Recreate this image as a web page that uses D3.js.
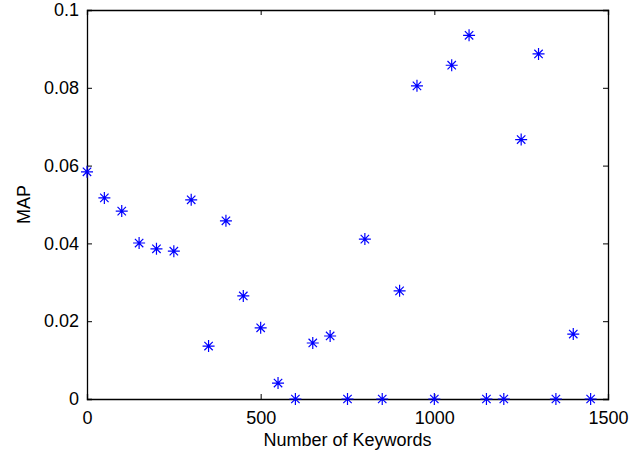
<!DOCTYPE html>
<html>
<head>
<meta charset="utf-8">
<script src="https://cdn.jsdelivr.net/npm/d3@7"></script>
<style>
  body { margin: 0; background: #fff; }
  text { font-family: "Liberation Sans", Arial, sans-serif; }
</style>
</head>
<body>
<div class="container"></div>
<script>
// MAP vs number of keywords, matlab-style scatter with '*' markers

const keywords = [0, 50, 100, 150, 200, 250, 300, 350, 400, 450, 500, 550, 600, 650, 700,
  750, 800, 850, 900, 950, 1000, 1050, 1100, 1150, 1200, 1250, 1300, 1350, 1400, 1450];
const mapValues = [0.0584, 0.0517, 0.0483, 0.0401, 0.0386, 0.0380, 0.0512, 0.0136, 0.0458, 0.0265,
  0.0183, 0.0041, 0, 0.0144, 0.0162, 0, 0.0411, 0, 0.0278, 0.0805,
  0, 0.0858, 0.0935, 0, 0, 0.0667, 0.0887, 0, 0.0167, 0];
const xTicks = [0, 500, 1000, 1500];
const yTicks = [0, 0.02, 0.04, 0.06, 0.08, 0.1];

const w = 644, h = 455;
const margin = { top: 10, right: 36, bottom: 56, left: 87 };

const points = keywords.map((k, i) => ({ k: k, v: mapValues[i] }));

const xScale = d3.scaleLinear().domain([0, 1500]).range([margin.left, w - margin.right]);
const yScale = d3.scaleLinear().domain([0, 0.1]).range([h - margin.bottom, margin.top]);

const svg = d3.select(".container").append("svg")
  .attr("width", w)
  .attr("height", h);

const fmt = (d) => d === 0 ? "0" : String(+d.toFixed(2));

// box axes, ticks pointing inward
const axBottom = svg.append("g")
  .attr("transform", `translate(0,${yScale(0)})`)
  .call(d3.axisBottom(xScale).tickValues(xTicks).tickSize(-5).tickPadding(12).tickFormat(d3.format("d")));
const axTop = svg.append("g")
  .attr("transform", `translate(0,${yScale(0.1)})`)
  .call(d3.axisTop(xScale).tickValues(xTicks).tickSize(-5).tickFormat(""));
const axLeft = svg.append("g")
  .attr("transform", `translate(${xScale(0)},0)`)
  .call(d3.axisLeft(yScale).tickValues(yTicks).tickSize(-5).tickPadding(8).tickFormat(fmt));
const axRight = svg.append("g")
  .attr("transform", `translate(${xScale(1500)},0)`)
  .call(d3.axisRight(yScale).tickValues(yTicks).tickSize(-5).tickFormat(""));

[axBottom, axTop, axLeft, axRight].forEach((g) => {
  g.select(".domain").attr("stroke", "#000").attr("stroke-width", 1.3);
  g.selectAll(".tick line").attr("stroke", "#000").attr("stroke-width", 1);
  g.selectAll(".tick text")
    .attr("fill", "#000")
    .attr("font-size", "18px")
    .attr("font-family", "'Liberation Sans', Arial, sans-serif");
});

// asterisk markers
const arm = 6;
const star = `M${-arm},0H${arm}M0,${-arm}V${arm}` +
  `M${-arm * 0.7},${-arm * 0.7}L${arm * 0.7},${arm * 0.7}` +
  `M${-arm * 0.7},${arm * 0.7}L${arm * 0.7},${-arm * 0.7}`;

svg.selectAll("path.pt")
  .data(points)
  .join("path")
  .attr("class", "pt")
  .attr("d", star)
  .attr("transform", (d) => `translate(${xScale(d.k)},${yScale(d.v)})`)
  .attr("stroke", "#0000ff")
  .attr("stroke-width", 1.2)
  .attr("fill", "none");

svg.append("text")
  .attr("x", (xScale(0) + xScale(1500)) / 2)
  .attr("y", 446)
  .attr("text-anchor", "middle")
  .attr("font-size", "18px")
  .text("Number of Keywords");

svg.append("text")
  .attr("transform", `translate(30,${(yScale(0) + yScale(0.1)) / 2}) rotate(-90)`)
  .attr("text-anchor", "middle")
  .attr("font-size", "18px")
  .text("MAP");
</script>
</body>
</html>
